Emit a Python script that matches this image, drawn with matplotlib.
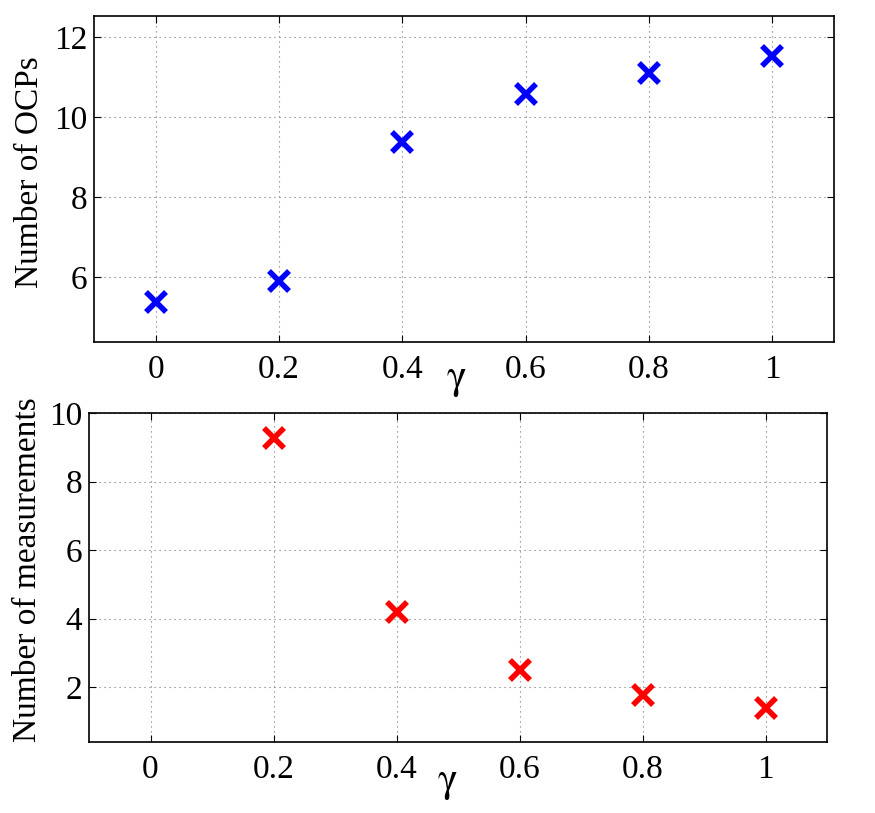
import matplotlib
matplotlib.use("Agg")
import matplotlib.pyplot as plt

gamma = [0, 0.2, 0.4, 0.6, 0.8, 1.0]
num_ocps = [5.38, 5.91, 9.38, 10.58, 11.09, 11.53]
gamma_meas = [0.2, 0.4, 0.6, 0.8, 1.0]
num_meas = [9.26, 4.20, 2.50, 1.78, 1.40]
xticks = [0, 0.2, 0.4, 0.6, 0.8, 1.0]
xticklabels = ["0", "0.2", "0.4", "0.6", "0.8", "1"]

plt.rcParams['font.family'] = ['Liberation Serif', 'DejaVu Serif']
plt.rcParams['mathtext.fontset'] = 'stix'
fig = plt.figure(figsize=(8.75, 8.13), dpi=100)

ax1 = fig.add_axes([94/875, 1-342/813, 740/875, 326/813])
ax2 = fig.add_axes([89/875, 1-742/813, 738/875, 329/813])

def style(ax, yticks):
    ax.set_xlim(-0.1, 1.1)
    ax.set_xticks(xticks)
    ax.set_xticklabels(xticklabels)
    ax.set_yticks(yticks)
    ax.set_yticklabels([str(v) for v in yticks])
    ax.tick_params(direction='in', top=True, right=True, length=5, width=0.8,
                   labelsize=24, pad=9)
    ax.tick_params(axis='y', pad=5)
    ax.grid(True, color='0.45', linestyle=(0, (1, 3.5)), linewidth=0.8)
    for s in ax.spines.values():
        s.set_linewidth(1.2)

ax1.plot(gamma, num_ocps, linestyle='none', marker='x', color='#0000ff',
         markersize=14, markeredgewidth=4)
ax1.set_ylim(4.375, 12.525)
style(ax1, [6, 8, 10, 12])
ax1.set_ylabel('Number of OCPs', fontsize=24)
ax1.yaxis.set_label_coords(-0.066, 0.52)
ax1.set_xlabel(r'$\mathrm{\gamma}$', fontsize=30, va='center')
ax1.xaxis.set_label_coords(0.49, -0.117)

ax2.plot(gamma_meas, num_meas, linestyle='none', marker='x', color='#ff0000',
         markersize=14, markeredgewidth=4)
ax2.set_ylim(0.4, 10.0)
style(ax2, [2, 4, 6, 8, 10])
ax2.set_ylabel('Number of measurements', fontsize=24)
ax2.yaxis.set_label_coords(-0.063, 0.525)
ax2.set_xlabel(r'$\mathrm{\gamma}$', fontsize=30, va='center')
ax2.xaxis.set_label_coords(0.486, -0.125)

fig.savefig('out.png', dpi=100)
